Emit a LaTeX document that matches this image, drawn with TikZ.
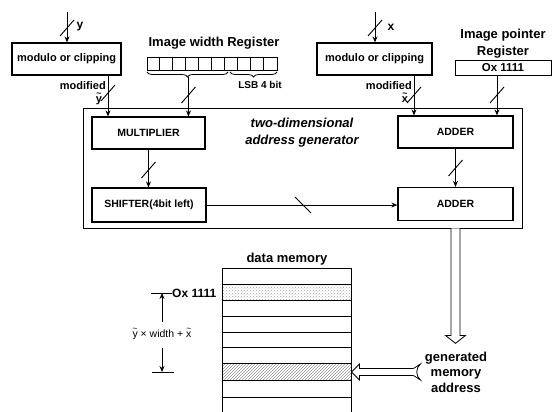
\documentclass[tikz,border=0pt]{standalone}
\usepackage{fontspec}
\usepackage{graphicx}
\setmainfont{Liberation Sans}
\usetikzlibrary{arrows.meta,patterns,decorations.pathreplacing,calc}
\newcommand{\tld}[1]{\ooalign{#1\cr\hidewidth\raisebox{0.55em}{\scalebox{0.8}{\textasciitilde}}\hidewidth\cr}}
\newcommand{\vsl}[2]{\draw[tick] ({#1-7},{#2+8}) -- ({#1+7},{#2-8});}
\begin{document}
\begin{tikzpicture}[x=1pt,y=-1pt,
  blk/.style={draw, line width=1.2pt, inner sep=0pt, font=\bfseries\fontsize{10.5}{13}\selectfont},
  arr/.style={-{Stealth[length=6pt,width=5pt]}, line width=0.9pt},
  tick/.style={line width=0.9pt},
  ttl/.style={font=\bfseries\fontsize{13}{17}\selectfont, align=center, inner sep=0pt},
  lbl/.style={font=\bfseries\fontsize{11}{13}\selectfont, inner sep=0pt},
  brc/.style={decorate, decoration={brace, mirror, amplitude=5pt}, line width=0.8pt},
  dbl/.style={line width=0.8pt, fill=white}
]
\useasboundingbox (0,0) rectangle (552,412);

% top blocks
\node[blk, minimum width=109pt, minimum height=32pt, font=\bfseries\fontsize{11}{14}\selectfont] (modY) at (66.5,59) {modulo or clipping};
\node[blk, minimum width=115pt, minimum height=32pt, font=\bfseries\fontsize{11}{14}\selectfont] (modX) at (374.5,59) {modulo or clipping};

\node[ttl] (wtitle) at (214,43) {Image width Register};
\node[draw, line width=0.8pt, minimum width=130pt, minimum height=13pt, inner sep=0pt] (wreg) at (212,63.5) {};
\foreach \i in {1,...,9} \draw[line width=0.8pt] ($(wreg.north west)+(13*\i,0)$) -- ($(wreg.south west)+(13*\i,0)$);
\coordinate (b1s) at (147,72);
\coordinate (b1e) at (228,72);
\coordinate (b2s) at (230,72);
\coordinate (b2e) at (277,72);
\draw[brc] (b1s) -- (b1e);
\draw[brc] (b2s) -- (b2e);
\node[lbl, font=\bfseries\fontsize{10}{13}\selectfont] (lsb) at (260,85) {LSB 4 bit};

\node[ttl] (ptitle) at (503,43.5) {Image pointer\\Register};
\node[draw, line width=0.7pt, minimum width=96pt, minimum height=15pt, inner sep=0pt, font=\bfseries\fontsize{11.5}{14}\selectfont] (preg) at (503,67.5) {Ox 1111};

% generator
\node[draw, line width=0.8pt, minimum width=439pt, minimum height=120pt, inner sep=0pt] (gen) at (302.5,168) {};
\node[blk, minimum width=113pt, minimum height=32pt] (mul) at (148.5,133) {MULTIPLIER};
\node[blk, minimum width=114pt, minimum height=34pt] (shf) at (149,205) {SHIFTER(4bit left)};
\node[blk, minimum width=115pt, minimum height=32pt] (add1) at (455.5,132) {ADDER};
\node[blk, minimum width=115pt, minimum height=33pt] (add2) at (455.5,204) {ADDER};
\node[font=\bfseries\itshape\fontsize{13}{17}\selectfont, align=center, inner sep=0pt] (genlab) at (302,132.5) {two-dimensional\\address generator};

% inputs
\coordinate (yin) at (67,12);
\draw[arr] (yin) -- (yin |- modY.north);
\vsl{67}{28}
\node[lbl, font=\bfseries\fontsize{12}{14}\selectfont] (ylab) at (80,27) {y};
\coordinate (xin) at (375,12);
\draw[arr] (xin) -- (xin |- modX.north);
\vsl{375}{28}
\node[lbl, font=\bfseries\fontsize{12}{14}\selectfont] (xlab) at (391,27) {x};

% into multiplier / adder
\coordinate (yo) at (108,75);
\draw[arr] (yo) -- (yo |- mul.north);
\vsl{108}{93}
\node[lbl, anchor=east] (modl1) at (106,86) {modified};
\node[lbl] (ytl) at (99,100) {\tld{y}};

\coordinate (bt) at (188.5,77);
\draw[arr] (bt) -- (bt |- mul.north);
\vsl{188.5}{95}

\coordinate (xo) at (414,75);
\draw[arr] (xo) -- (xo |- add1.north);
\vsl{414}{95}
\node[lbl, anchor=east] (modl2) at (412,86) {modified};
\node[lbl] (xtl) at (405,100) {\tld{x}};

\coordinate (po) at (497,75);
\draw[arr] (po) -- (po |- add1.north);
\vsl{497}{95}

% inner connections
\draw[arr] (mul.south) -- (mul.south |- shf.north);
\vsl{148.5}{170}
\draw[arr] (shf.east) -- (shf.east -| add2.west);
\draw[tick] (295,197) -- (311,213);
\draw[arr] (add1.south) -- (add1.south |- add2.north);
\vsl{455.5}{168}

% memory
\node[ttl] (dmlab) at (287,259) {data memory};
\node[minimum width=129pt, minimum height=144pt, anchor=north west, inner sep=0pt] (mem) at (222,268) {};
\fill[pattern=crosshatch dots, pattern color=gray!70] (222,284) rectangle (351,300);
\fill[pattern=north east lines, pattern color=gray!80] (222,363) rectangle (351,380);
\draw[line width=0.8pt] (mem.south west) -- (mem.north west) -- (mem.north east) -- (mem.south east);
\foreach \yy in {284,300,316,332,347,363,380,397} \draw[line width=0.8pt] (222,\yy) -- (351,\yy);

% generated address arrow
\coordinate (da) at (gen.south -| add2.south);
\draw[dbl] ($(da)+(-4.5,0)$) -- ($(da)+(-4.5,107)$) -- ($(da)+(-10,107)$) -- ($(da)+(0,115)$) -- ($(da)+(10,107)$) -- ($(da)+(4.5,107)$) -- ($(da)+(4.5,0)$);
\node[ttl, font=\bfseries\fontsize{13}{15.5}\selectfont] (gma) at (456,372) {generated\\memory\\address};

\coordinate (mtip) at (351.5,372);
\draw[dbl] ($(mtip)+(62,-3.5)$) -- ($(mtip)+(8,-3.5)$) -- ($(mtip)+(8,-8)$) -- (mtip) -- ($(mtip)+(8,8)$) -- ($(mtip)+(8,3.5)$) -- ($(mtip)+(62,3.5)$);
\draw[line width=0.8pt] ($(mtip)+(62,-3.5)$) -- ($(mtip)+(69,-8)$) .. controls ($(mtip)+(64,-4)$) and ($(mtip)+(64,4)$) .. ($(mtip)+(69,8)$) -- ($(mtip)+(62,3.5)$);

% dimension
\node[lbl, anchor=west, font=\bfseries\fontsize{12}{14}\selectfont] (ox) at (172,293) {Ox 1111};
\draw[line width=0.8pt] (151,293) -- (ox.west);
\node[lbl, font=\fontsize{10.5}{12}\selectfont] (dim) at (162,334) {\tld{y} × width + \tld{x}};
\coordinate (dtop) at (162,293);
\coordinate (dbot) at (162,372);
\draw[arr, line width=0.7pt] ($(dim.north)+(0,-8)$) -- (dtop);
\draw[arr, line width=0.7pt] ($(dim.south)+(0,10)$) -- (dbot);
\draw[line width=0.8pt] (152,372) -- (174,372);
\end{tikzpicture}
\end{document}
